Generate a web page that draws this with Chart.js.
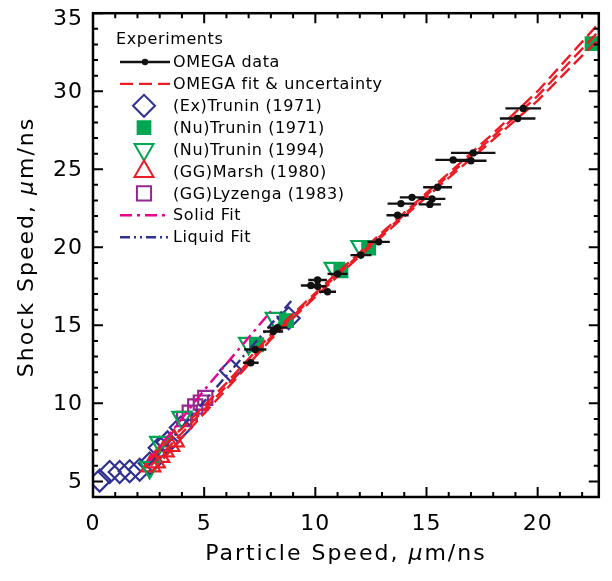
<!DOCTYPE html>
<html>
<head>
<meta charset="utf-8">
<script src="https://cdn.jsdelivr.net/npm/chart.js@4"></script>
<style>
  html, body { margin: 0; padding: 0; background: #fff; }
  #wrap { width: 612px; height: 581px; position: relative; }
</style>
</head>
<body>
<div id="wrap"><canvas id="chart"></canvas></div>
<script>
// OMEGA data: particle speed, shock speed, +/- error on particle speed
const omegaUp = [7.1, 7.3, 8.1, 8.3, 9.8, 10.1, 10.1, 10.55, 11.0, 12.05, 12.85, 13.7, 13.85, 14.35, 15.15, 15.25, 15.5, 16.2, 17.0, 17.1, 19.1, 19.35];
const omegaUs = [12.6, 13.45, 14.6, 14.85, 17.55, 17.9, 17.5, 17.15, 18.3, 19.5, 20.35, 22.05, 22.8, 23.2, 22.75, 23.1, 23.85, 25.6, 25.55, 26.05, 28.25, 28.9];
const omegaErr = [0.35, 0.5, 0.45, 0.45, 0.45, 0.42, 0.4, 0.38, 0.45, 0.47, 0.5, 0.5, 0.6, 0.55, 0.5, 0.6, 0.65, 0.8, 0.7, 1.0, 0.8, 0.8];

// OMEGA fit and uncertainty band
const fitUp   = [2.6, 4, 6, 8, 10, 12, 14, 16, 18, 20, 22.75];
const fitUs   = [6.0, 8.1, 11.1, 14.25, 16.95, 19.55, 22.1, 24.6, 27.1, 29.7, 33.85];
const fitHigh = [6.45, 8.4, 11.3, 14.4, 17.07, 19.67, 22.22, 24.75, 27.3, 30.0, 34.35];
const fitLow  = [5.55, 7.8, 10.9, 14.1, 16.83, 19.43, 21.98, 24.45, 26.9, 29.4, 33.35];

// other experiments
const exTruninUp = [0.3, 0.75, 1.2, 1.65, 2.1, 2.55, 3.0, 3.35, 3.95, 6.2, 8.8];
const exTruninUs = [5.05, 5.6, 5.6, 5.65, 5.75, 6.15, 7.15, 7.5, 8.45, 12.1, 15.45];
const nuTrunin71Up = [7.35, 8.7, 11.15, 12.4, 22.45];
const nuTrunin71Us = [13.75, 15.3, 18.5, 19.95, 33.05];
const nuTrunin94Up = [2.55, 3.0, 4.0, 7.0, 8.2, 10.85, 12.05];
const nuTrunin94Us = [5.9, 7.5, 9.1, 13.85, 15.45, 18.65, 20.05];
const marshUp = [2.6, 2.8, 3.0, 3.2, 3.45, 3.65];
const marshUs = [6.0, 6.25, 6.6, 6.95, 7.3, 7.6];
const lyzengaUp = [4.1, 4.35, 4.6, 4.85, 5.05];
const lyzengaUs = [9.0, 9.4, 9.8, 10.05, 10.35];

// model fits
const solidUp = [2.5, 5, 8];
const solidUs = [6.3, 10.85, 15.9];
const liquidUp = [2.5, 9.0];
const liquidUs = [6.0, 16.7];

// axes
const xTicks = [0, 5, 10, 15, 20];
const yTicks = [5, 10, 15, 20, 25, 30, 35];

const navy = "#2E3192";
const green = "#00A651";
const red = "#ED1C24";
const purple = "#92278F";
const magenta = "#EC008C";
const fontFam = "'DejaVu Sans', sans-serif";

function pts(xs, ys) {
  return xs.map((x, i) => ({ x: x, y: ys[i] }));
}

function marker(label, xs, ys, style, color, radius, filled, rot) {
  return {
    label: label,
    data: pts(xs, ys),
    showLine: false,
    pointStyle: style,
    pointRadius: radius,
    pointRotation: rot || 0,
    pointBorderWidth: 2.2,
    pointBorderColor: color,
    pointBackgroundColor: filled ? color : "rgba(0,0,0,0)",
    borderColor: color,
    backgroundColor: filled ? color : "rgba(0,0,0,0)",
  };
}

function curve(label, xs, ys, color, dash) {
  return {
    label: label,
    data: pts(xs, ys),
    showLine: true,
    pointRadius: 0,
    borderColor: color,
    borderWidth: 2.4,
    borderDash: dash,
    fill: false,
  };
}

const datasets = [
  Object.assign(marker("OMEGA data", omegaUp, omegaUs, "circle", "#111", 3.7, true), { pointBorderWidth: 0 }),
  curve("OMEGA fit & uncertainty", fitUp, fitUs, red, [13, 6]),
  curve("", fitUp, fitHigh, red, [13, 6]),
  curve("", fitUp, fitLow, red, [13, 6]),
  curve("Solid Fit", solidUp, solidUs, magenta, [12, 5, 3, 5]),
  curve("Liquid Fit", liquidUp, liquidUs, navy, [10, 4, 2, 4, 2, 4]),
  marker("(Nu)Trunin (1971)", nuTrunin71Up, nuTrunin71Us, "rect", green, 9, true),
  marker("(Nu)Trunin (1994)", nuTrunin94Up, nuTrunin94Us, "triangle", green, 11, false, 180),
  marker("(GG)Marsh (1980)", marshUp, marshUs, "triangle", red, 11, false),
  marker("(GG)Lyzenga (1983)", lyzengaUp, lyzengaUs, "rect", purple, 10, false),
  marker("(Ex)Trunin (1971)", exTruninUp, exTruninUs, "rectRot", navy, 11, false),
];

// legend rows in drawing order: [dataset index, kind]
const legendOrder = [[0, "dotline"], [1, "line"], [10, "point"], [6, "point"], [7, "point"], [8, "point"], [9, "point"], [4, "line"], [5, "line"]];

const idlPlot = {
  id: "idlPlot",
  afterDatasetsDraw(chart) {
    const ctx = chart.ctx;
    const xs = chart.scales.x, ys = chart.scales.y;
    const a = chart.chartArea;

    // horizontal error bars on OMEGA data
    ctx.save();
    ctx.beginPath();
    ctx.rect(a.left, a.top, a.right - a.left, a.bottom - a.top);
    ctx.clip();
    ctx.strokeStyle = "#111";
    ctx.lineWidth = 2.4;
    omegaUp.forEach((u, i) => {
      const py = ys.getPixelForValue(omegaUs[i]);
      ctx.beginPath();
      ctx.moveTo(xs.getPixelForValue(u - omegaErr[i]), py);
      ctx.lineTo(xs.getPixelForValue(u + omegaErr[i]), py);
      ctx.stroke();
    });
    ctx.restore();

    // frame and inward ticks
    ctx.save();
    ctx.strokeStyle = "#000";
    ctx.lineWidth = 2.5;
    ctx.strokeRect(a.left, a.top, a.right - a.left, a.bottom - a.top);
    ctx.lineWidth = 2;
    for (let v = Math.ceil(xs.min); v <= xs.max; v++) {
      const len = v % 5 === 0 ? 10 : 5;
      const px = xs.getPixelForValue(v);
      ctx.beginPath();
      ctx.moveTo(px, a.bottom); ctx.lineTo(px, a.bottom - len);
      ctx.moveTo(px, a.top); ctx.lineTo(px, a.top + len);
      ctx.stroke();
    }
    for (let v = Math.ceil(ys.min); v <= ys.max; v++) {
      const len = v % 5 === 0 ? 10 : 5;
      const py = ys.getPixelForValue(v);
      ctx.beginPath();
      ctx.moveTo(a.left, py); ctx.lineTo(a.left + len, py);
      ctx.moveTo(a.right, py); ctx.lineTo(a.right - len, py);
      ctx.stroke();
    }

    // tick labels
    ctx.fillStyle = "#000";
    ctx.font = "22px " + fontFam;
    ctx.letterSpacing = "1px";
    ctx.textAlign = "center";
    ctx.textBaseline = "middle";
    xTicks.forEach((v) => ctx.fillText(String(v), xs.getPixelForValue(v), a.bottom + 27));
    ctx.textAlign = "right";
    yTicks.forEach((v) => {
      const py = Math.max(ys.getPixelForValue(v) + 1, 19);
      ctx.fillText(String(v), a.left - 10, py);
    });

    // axis titles with italic mu
    function title(x, y, parts) {
      ctx.letterSpacing = "2px";
      let w = 0;
      parts.forEach((p) => { ctx.font = (p[1] ? "italic " : "") + "22px " + fontFam; w += ctx.measureText(p[0]).width; });
      let cx = x - w / 2;
      ctx.textAlign = "left";
      parts.forEach((p) => {
        ctx.font = (p[1] ? "italic " : "") + "22px " + fontFam;
        ctx.fillText(p[0], cx, y);
        cx += ctx.measureText(p[0]).width;
      });
    }
    title((a.left + a.right) / 2, 554, [["Particle Speed, ", false], ["\u03bc", true], ["m/ns", false]]);
    ctx.save();
    ctx.translate(27, 247);
    ctx.rotate(-Math.PI / 2);
    title(0, 0, [["Shock Speed, ", false], ["\u03bc", true], ["m/ns", false]]);
    ctx.restore();

    // legend
    ctx.font = "16px " + fontFam;
    ctx.letterSpacing = "0.6px";
    ctx.textAlign = "left";
    ctx.fillText("Experiments", 116, 40);
    legendOrder.forEach((row, i) => {
      const ds = chart.data.datasets[row[0]];
      const y = 62 + i * 21.9;
      ctx.save();
      if (row[1] === "line" || row[1] === "dotline") {
        ctx.strokeStyle = ds.borderColor;
        ctx.lineWidth = 2.4;
        ctx.setLineDash(row[1] === "line" ? ds.borderDash : []);
        ctx.beginPath();
        ctx.moveTo(120, y); ctx.lineTo(170, y);
        ctx.stroke();
        if (row[1] === "dotline") {
          ctx.fillStyle = "#111";
          ctx.beginPath();
          ctx.arc(145, y, 3.2, 0, Math.PI * 2);
          ctx.fill();
        }
      } else {
        ctx.strokeStyle = ds.pointBorderColor;
        ctx.fillStyle = ds.pointBackgroundColor;
        Chart.helpers.drawPoint(ctx, {
          pointStyle: ds.pointStyle,
          rotation: ds.pointRotation,
          radius: ds.pointRadius,
          borderWidth: ds.pointBorderWidth,
        }, 144, y);
      }
      ctx.restore();
      ctx.fillStyle = "#000";
      ctx.fillText(ds.label, 173, y + 1);
    });
    ctx.restore();
  },
};

new Chart(document.getElementById("chart"), {
  type: "scatter",
  data: { datasets: datasets },
  options: {
    responsive: true,
    maintainAspectRatio: false,
    animation: false,
    layout: { padding: { left: 93, top: 10, right: 4, bottom: 84 } },
    plugins: { legend: { display: false }, tooltip: { enabled: false } },
    scales: {
      x: { type: "linear", min: 0, max: 22.75, display: false },
      y: { type: "linear", min: 4, max: 35, display: false },
    },
  },
  plugins: [idlPlot],
});
</script>
</body>
</html>
